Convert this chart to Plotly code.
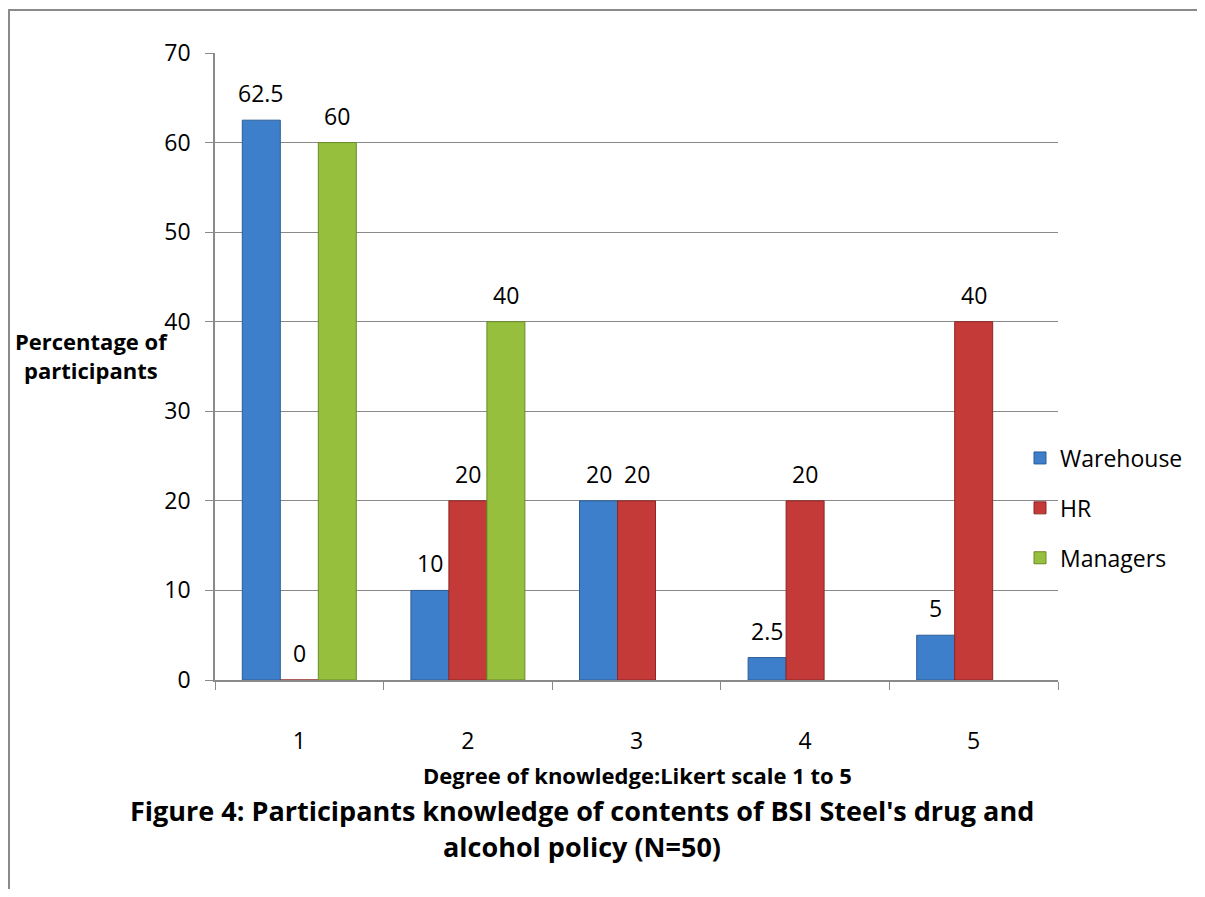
import plotly.graph_objects as go

categories = ["1", "2", "3", "4", "5"]
warehouse = [62.5, 10, 20, 2.5, 5]
hr = [0, 20, 20, 20, 40]
managers = [60, 40, None, None, None]

series_names = ["Warehouse", "HR", "Managers"]
series_values = [warehouse, hr, managers]
colors = ["#3E7FCB", "#C43A38", "#95BF3D"]
edges = ["#2B5C96", "#8E2624", "#6A8A2A"]

FONT = "Open Sans"
OFF = 8  # page body margin
W, H = 1205 - 2 * OFF, 897 - 2 * OFF
L, T = 215 - OFF, 53 - OFF
PR, PB = 1058 - OFF, 680 - OFF
R, B = W - PR, H - PB
pw, ph = PR - L, PB - T


def px(x):
    return (x - OFF - L) / pw


def py(y):
    return (PB - (y - OFF)) / ph


BARGAP = 0.324
fig = go.Figure()
for name, vals, c, e in zip(series_names, series_values, colors, edges):
    fig.add_trace(go.Bar(
        x=categories, y=vals, name=name, legendgroup=name,
        marker=dict(color=c, line=dict(color=e, width=1)),
    ))

# data labels above each bar
bw = pw / len(categories) * (1 - BARGAP) / len(series_names)
for i, vals in enumerate(series_values):
    for j, v in enumerate(vals):
        if v is None:
            continue
        fig.add_annotation(x=j, y=v, xref="x", yref="y", text=f"{v:g}",
                           showarrow=False, xshift=(i - 1) * bw, yshift=27,
                           xanchor="center", yanchor="middle",
                           font=dict(size=23, family=FONT, color="#000000"))

fig.update_layout(
    width=W, height=H,
    margin=dict(l=L, r=R, t=T, b=B, autoexpand=False),
    paper_bgcolor="white", plot_bgcolor="white",
    barmode="group", bargap=BARGAP, bargroupgap=0,
    font=dict(family=FONT, size=23, color="#000000"),
    showlegend=True,
    legend=dict(x=px(1020), xanchor="left", y=py(508), yanchor="middle",
                font=dict(size=23, family=FONT), tracegroupgap=17,
                traceorder="grouped", itemwidth=30, bgcolor="rgba(0,0,0,0)"),
    xaxis=dict(type="category", range=[-0.5, 4.5],
               showline=True, linecolor="#8A8A8A", linewidth=1.5,
               ticks="outside", tickson="boundaries", ticklen=8, tickcolor="#8A8A8A",
               ticklabelstandoff=40,
               tickfont=dict(size=23, family=FONT)),
    yaxis=dict(range=[0, 70], dtick=10, showgrid=True, gridcolor="#8A8A8A", gridwidth=1,
               showline=True, linecolor="#8A8A8A", linewidth=1.5,
               ticks="outside", ticklen=8, tickcolor="#8A8A8A", zeroline=False,
               ticklabelstandoff=10,
               tickfont=dict(size=23, family=FONT)),
)

fig.add_annotation(text="<b>Percentage of<br>participants</b>", xref="paper", yref="paper",
                   x=px(91), y=py(355), showarrow=False, align="center",
                   xanchor="center", yanchor="middle",
                   font=dict(size=22, family=FONT))
fig.add_annotation(text="<b>Degree of knowledge:Likert scale 1 to 5</b>", xref="paper", yref="paper",
                   x=px(637), y=py(775), showarrow=False,
                   xanchor="center", yanchor="middle",
                   font=dict(size=22, family=FONT))
fig.add_annotation(text="<b>Figure 4: Participants knowledge of contents of BSI Steel's drug and</b>",
                   xref="paper", yref="paper", x=px(582), y=py(810), showarrow=False,
                   xanchor="center", yanchor="middle",
                   font=dict(size=27, family=FONT))
fig.add_annotation(text="<b>alcohol policy (N=50)</b>",
                   xref="paper", yref="paper", x=px(582), y=py(846), showarrow=False,
                   xanchor="center", yanchor="middle",
                   font=dict(size=27, family=FONT))

fig.add_shape(type="rect", xref="paper", yref="paper",
              x0=(1 - L) / pw, y0=py(1000), x1=px(1300), y1=py(10),
              line=dict(color="#8A8A8A", width=2), fillcolor="rgba(0,0,0,0)", layer="below")

fig.write_html("out.html")
